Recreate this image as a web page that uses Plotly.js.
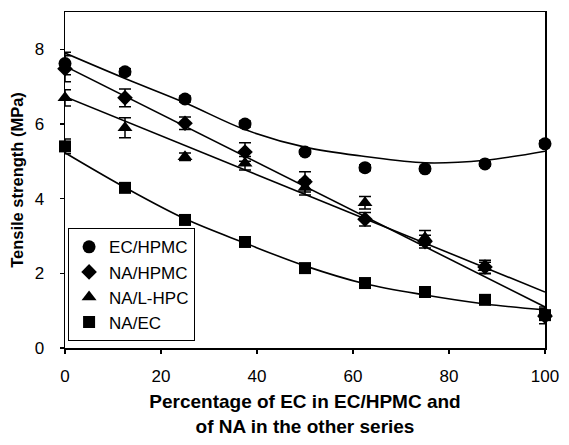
<!DOCTYPE html>
<html>
<head>
<meta charset="utf-8">
<script src="https://cdn.plot.ly/plotly-3.0.1.min.js"></script>
<style>html,body{margin:0;padding:0;background:#fff;}#chart{width:569px;height:445px;}</style>
</head>
<body>
<div id="chart"></div>
<script>
// Percentage of EC (EC/HPMC) or NA (other series)
const xPct = [0, 12.5, 25, 37.5, 50, 62.5, 75, 87.5, 100];

// Measured tensile strength (MPa)
const ecHpmc   = [7.62, 7.40, 6.67, 6.00, 5.25, 4.83, 4.80, 4.93, 5.47];
const ecHpmcErr= [0.30, 0.08, 0.08, 0.08, 0.06, 0.08, 0.06, 0.06, 0.08];
const naHpmc   = [7.48, 6.70, 6.02, 5.25, 4.45, 3.45, 2.85, 2.17, 0.85];
const naHpmcErr= [0.35, 0.24, 0.17, 0.25, 0.27, 0.18, 0.17, 0.18, 0.20];
const naLhpc   = [6.70, 5.90, 5.12, 4.95, 4.30, 3.89, 2.95, 2.15, 0.95];
const naLhpcErr= [0.22, 0.27, 0.10, 0.18, 0.20, 0.17, 0.20, 0.15, 0.15];
const naEc     = [5.40, 4.29, 3.43, 2.84, 2.14, 1.74, 1.50, 1.29, 0.88];
const naEcErr  = [0.20, 0.08, 0.08, 0.08, 0.08, 0.08, 0.08, 0.08, 0.10];

// Fitted curves
const fitX      = [0, 12.5, 25, 37.5, 50, 62.5, 75, 87.5, 100];
const fitEcHpmc = [7.90, 7.22, 6.57, 5.85, 5.38, 5.13, 4.96, 5.03, 5.27];
const fitNaEc   = [5.23, 4.30, 3.46, 2.81, 2.20, 1.72, 1.42, 1.18, 1.02];
const fitLineX  = [0, 100];
const fitNaHpmc = [7.55, 1.10];
const fitNaLhpc = [6.73, 1.50];

const seriesNames = ["EC/HPMC", "NA/HPMC", "NA/L-HPC", "NA/EC"];
const xTicks = [0, 20, 40, 60, 80, 100];
const yTicks = [0, 2, 4, 6, 8];

const black = "#000";
function fit(x, y, smooth) {
  return {x: x, y: y, mode: "lines", type: "scatter", showlegend: false, hoverinfo: "skip",
          line: {color: black, width: 1.6, shape: smooth ? "spline" : "linear", smoothing: 1}, cliponaxis: false};
}
function pts(y, err, name, symbol, size) {
  return {x: xPct, y: y, name: name, mode: "markers", type: "scatter", cliponaxis: false,
          marker: {symbol: symbol, size: size, color: black},
          error_y: {type: "data", array: err, visible: true, color: black, thickness: 1.5, width: 6}};
}

const data = [
  fit(fitX, fitEcHpmc, true),
  fit(fitLineX, fitNaHpmc, false),
  fit(fitLineX, fitNaLhpc, false),
  fit(fitX, fitNaEc, true),
  pts(ecHpmc, ecHpmcErr, seriesNames[0], "circle", 13),
  pts(naHpmc, naHpmcErr, seriesNames[1], "diamond", 12),
  pts(naLhpc, naLhpcErr, seriesNames[2], "triangle-up", 13),
  pts(naEc, naEcErr, seriesNames[3], "square", 12)
];

const fontFam = "Liberation Sans, Arial, sans-serif";
const layout = {
  width: 569, height: 445,
  margin: {l: 65, r: 24, t: 12, b: 97},
  paper_bgcolor: "#fff", plot_bgcolor: "#fff",
  font: {family: fontFam, color: black, size: 17},
  showlegend: true,
  legend: {x: 0.006, y: 0.357, xanchor: "left", yanchor: "top",
           bgcolor: "#fff", bordercolor: black, borderwidth: 1.2,
           font: {family: fontFam, size: 17, color: black}},
  xaxis: {range: [0, 100], tickvals: xTicks, ticktext: xTicks.map(String),
          showgrid: false, zeroline: false, showline: true, linecolor: black, linewidth: 1.5,
          mirror: true, ticks: "outside", ticklen: 4, tickcolor: black, tickwidth: 1.5,
          ticklabelstandoff: 8,
          tickfont: {family: fontFam, size: 17, color: black},
          title: {text: "<b>Percentage of EC in EC/HPMC and<br>of NA in the other series</b>",
                  font: {family: fontFam, size: 19, color: black}, standoff: 10}},
  yaxis: {range: [0, 9], tickvals: yTicks, ticktext: yTicks.map(String),
          showgrid: false, zeroline: false, showline: true, linecolor: black, linewidth: 1.5,
          mirror: true, ticks: "outside", ticklen: 4, tickcolor: black, tickwidth: 1.5,
          ticklabelstandoff: 12,
          tickfont: {family: fontFam, size: 17, color: black},
          title: {text: "<b>Tensile strength (MPa)</b>",
                  font: {family: fontFam, size: 16.5, color: black}, standoff: 7}}
};

Plotly.newPlot("chart", data, layout, {displayModeBar: false, staticPlot: true});
</script>
</body>
</html>
